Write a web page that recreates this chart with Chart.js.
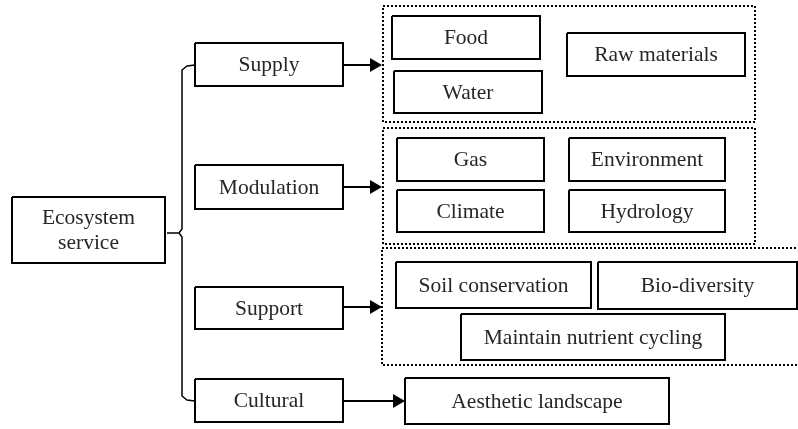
<!DOCTYPE html>
<html>
<head>
<meta charset="utf-8">
<script src="https://cdn.jsdelivr.net/npm/chart.js@4"></script>
<style>
  html, body { margin: 0; padding: 0; background: #fff; }
  #wrap { width: 798px; height: 429px; }
</style>
</head>
<body>
<div id="wrap"><canvas id="diagrama"></canvas></div>
<script>
// node labels of the diagram
const boxLabels = ['Ecosystem\nservice', 'Supply', 'Modulation', 'Support', 'Cultural',
  'Food', 'Water', 'Raw materials', 'Gas', 'Environment', 'Climate', 'Hydrology',
  'Soil conservation', 'Bio-diversity', 'Maintain nutrient cycling', 'Aesthetic landscape'];

// box extents in diagram units (same units as the hidden x / y scales)
const boxLeft   = [12, 195, 195, 195, 195, 392, 394, 567, 397, 569, 397, 569, 396, 598, 461, 405];
const boxRight  = [165, 343, 343, 343, 343, 540, 542, 745, 544, 725, 544, 725, 591, 797, 725, 669];
const boxTop    = [197, 43, 165, 287, 379, 16, 71, 33, 138, 138, 190, 190, 262, 262, 314, 378];
const boxBottom = [263, 86, 209, 329, 422, 59, 113, 76, 181, 181, 232, 232, 308, 309, 360, 424];

// dotted groups
const groupLeft   = [383, 383, 382];
const groupRight  = [755, 755, 805];
const groupTop    = [6, 128, 248];
const groupBottom = [122, 244, 365];

// arrows: start x, tip x, y
const arrowFrom = [343, 343, 343, 343];
const arrowTo   = [382, 382, 382, 405];
const arrowY    = [65, 187, 307, 401];

// brace joining the root to the four categories
const braceX = [195, 187, 182, 182, 179, 167, 179, 182, 182, 187, 195];
const braceY = [65, 66, 70, 229, 233, 233, 233, 237, 396, 400, 401];

function rect(l, r, t, b) {
  return [{x: l, y: t}, {x: r, y: t}, {x: r, y: b}, {x: l, y: b}, {x: l, y: t}];
}

const datasets = [];

boxLabels.forEach((lab, i) => {
  datasets.push({
    data: rect(boxLeft[i], boxRight[i], boxTop[i], boxBottom[i]),
    borderColor: '#000', borderWidth: 2, pointRadius: 0, showLine: true, clip: false
  });
});

groupLeft.forEach((l, i) => {
  datasets.push({
    data: rect(l, groupRight[i], groupTop[i], groupBottom[i]),
    borderColor: '#000', borderWidth: 2, borderDash: [2, 2], pointRadius: 0, showLine: true, clip: false
  });
});

arrowY.forEach((y, i) => {
  datasets.push({
    data: [{x: arrowFrom[i], y: y}, {x: arrowTo[i] - 6, y: y}],
    borderColor: '#000', borderWidth: 2, pointRadius: 0, showLine: true, clip: false
  });
  // arrow head
  datasets.push({
    data: [{x: arrowTo[i] - 8, y: y}],
    pointStyle: 'triangle', rotation: 90, pointRadius: 8,
    backgroundColor: '#000', borderColor: '#000', borderWidth: 0, showLine: false, clip: false
  });
});

datasets.push({
  data: braceX.map((x, i) => ({x: x, y: braceY[i]})),
  borderColor: '#000', borderWidth: 1.5, pointRadius: 0, showLine: true, tension: 0, clip: false
});

// labels drawn in the centre of each box
const etiquetas = {
  id: 'etiquetas',
  afterDatasetsDraw(chart) {
    const {ctx, scales: {x, y}} = chart;
    ctx.save();
    ctx.fillStyle = '#262626';
    ctx.font = '21.5px "Liberation Serif", "Times New Roman", serif';
    ctx.textAlign = 'center';
    ctx.textBaseline = 'middle';
    boxLabels.forEach((lab, i) => {
      const cx = x.getPixelForValue((boxLeft[i] + boxRight[i]) / 2);
      const cy = y.getPixelForValue((boxTop[i] + boxBottom[i]) / 2);
      const lines = lab.split('\n');
      lines.forEach((t, k) => {
        ctx.fillText(t, cx, cy + (k - (lines.length - 1) / 2) * 25 + 1);
      });
    });
    ctx.restore();
  }
};

new Chart(document.getElementById('diagrama'), {
  type: 'scatter',
  data: { datasets: datasets },
  options: {
    responsive: true,
    maintainAspectRatio: false,
    animation: false,
    layout: { padding: 0, autoPadding: false },
    plugins: { legend: { display: false }, tooltip: { enabled: false } },
    scales: {
      x: { type: 'linear', display: false, min: 0, max: 798 },
      y: { type: 'linear', display: false, min: 0, max: 429, reverse: true }
    }
  },
  plugins: [etiquetas]
});
</script>
</body>
</html>
